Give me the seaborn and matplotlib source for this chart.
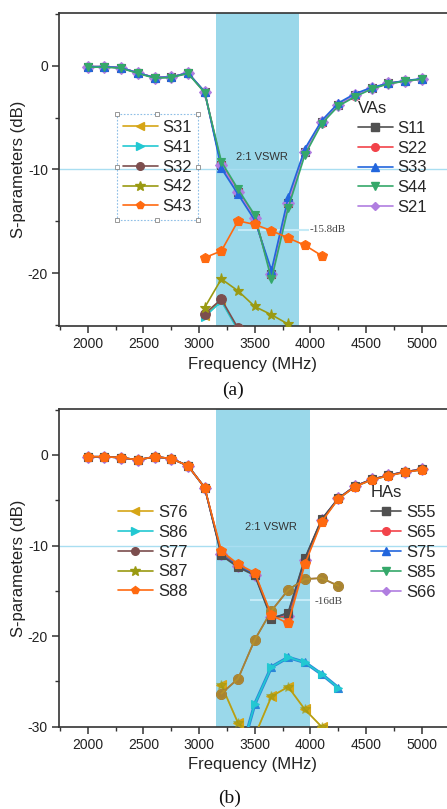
import matplotlib
matplotlib.use("Agg")
import matplotlib.pyplot as plt
import seaborn as sns
from matplotlib.lines import Line2D
from matplotlib.ticker import MultipleLocator

# ---------------- data ----------------
freq = [2000, 2150, 2300, 2450, 2600, 2750, 2900, 3050, 3200, 3350, 3500,
        3650, 3800, 3950, 4100, 4250, 4400, 4550, 4700, 4850, 5000]

# (a) VAs reflection
s11 = [-0.1, -0.1, -0.2, -0.7, -1.15, -1.1, -0.7, -2.55, -9.6, -12.2, -14.7, -20.1, -13.2, -8.3, -5.45, -3.75, -2.85, -2.2, -1.7, -1.5, -1.3]
s22 = [-0.1, -0.1, -0.2, -0.7, -1.15, -1.1, -0.7, -2.55, -9.5, -12.1, -14.6, -20.2, -13.3, -8.35, -5.5, -3.8, -2.9, -2.2, -1.7, -1.5, -1.3]
s33 = [-0.1, -0.1, -0.2, -0.7, -1.15, -1.1, -0.7, -2.5, -9.9, -12.4, -14.9, -19.7, -12.7, -8.0, -5.3, -3.6, -2.7, -2.1, -1.7, -1.45, -1.25]
s44 = [-0.15, -0.15, -0.25, -0.75, -1.2, -1.15, -0.75, -2.6, -9.25, -11.9, -14.4, -20.6, -13.7, -8.6, -5.6, -3.9, -3.0, -2.25, -1.75, -1.5, -1.3]
s21 = [-0.1, -0.1, -0.2, -0.7, -1.15, -1.1, -0.7, -2.55, -9.6, -12.2, -14.7, -20.1, -13.2, -8.3, -5.45, -3.75, -2.85, -2.2, -1.7, -1.5, -1.3]

# (a) VAs coupling
freq_s43 = [3050, 3200, 3350, 3500, 3650, 3800, 3950, 4100]
s43 = [-18.5, -17.85, -14.95, -15.3, -15.9, -16.6, -17.3, -18.3]
freq_s42 = [3050, 3200, 3350, 3500, 3650, 3800]
s42 = [-23.3, -20.55, -21.7, -23.2, -24.0, -24.9]
freq_s3x = [3050, 3200, 3350]
s31 = [-24.1, -22.65, -25.4]
s41 = [-24.2, -22.7, -25.5]
s32 = [-23.9, -22.5, -25.3]

# (b) HAs reflection
s55 = [-0.2, -0.2, -0.3, -0.55, -0.2, -0.4, -1.2, -3.6, -11.1, -12.4, -13.3, -18.1, -17.4, -11.4, -7.1, -4.8, -3.45, -2.7, -2.25, -1.85, -1.6]
s65 = [-0.2, -0.2, -0.3, -0.55, -0.2, -0.4, -1.2, -3.6, -10.9, -12.3, -13.2, -17.9, -17.8, -11.6, -7.2, -4.8, -3.45, -2.7, -2.25, -1.85, -1.6]
s75 = [-0.2, -0.2, -0.3, -0.55, -0.2, -0.4, -1.2, -3.6, -11.0, -12.3, -13.2, -18.0, -17.5, -11.5, -7.15, -4.8, -3.45, -2.7, -2.25, -1.85, -1.6]
s85 = [-0.2, -0.2, -0.3, -0.55, -0.2, -0.4, -1.2, -3.6, -10.8, -12.2, -13.1, -17.8, -18.0, -11.8, -7.3, -4.85, -3.5, -2.75, -2.3, -1.9, -1.65]
s66 = [-0.2, -0.2, -0.3, -0.55, -0.2, -0.4, -1.2, -3.6, -10.9, -12.3, -13.2, -17.9, -17.8, -11.6, -7.2, -4.8, -3.45, -2.7, -2.25, -1.85, -1.6]
s88 = [-0.2, -0.2, -0.3, -0.55, -0.2, -0.4, -1.2, -3.6, -10.6, -12.05, -13.0, -17.7, -18.6, -12.05, -7.4, -4.85, -3.5, -2.75, -2.3, -1.9, -1.65]

# (b) HAs coupling
freq_s77 = [3200, 3350, 3500, 3650, 3800, 3950, 4100, 4250]
s77 = [-26.35, -24.7, -20.4, -17.2, -14.9, -13.7, -13.6, -14.45]
s87 = [-26.35, -24.7, -20.4, -17.2, -14.9, -13.7, -13.6, -14.45]
freq_s86 = [3350, 3500, 3650, 3800, 3950, 4100, 4250]
s86 = [-34.0, -27.5, -23.4, -22.35, -22.9, -24.2, -25.7]
freq_s76 = [3200, 3350, 3500, 3650, 3800, 3950, 4100]
s76 = [-25.4, -29.6, -31.0, -26.65, -25.6, -28.1, -30.0]

xticks = [2000, 2500, 3000, 3500, 4000, 4500, 5000]

# ---------------- style ----------------
sns.set_theme(style="ticks")
plt.rcParams['font.family'] = ['Liberation Sans', 'DejaVu Sans']
plt.rcParams['axes.unicode_minus'] = False

C = {
    'S11': '#505050', 'S22': '#f2434a', 'S33': '#2266dd', 'S44': '#35a86a', 'S21': '#b07ee0',
    'S31': '#d6a516', 'S41': '#22c8d2', 'S32': '#7c4e4e', 'S42': '#9a9a12', 'S43': '#ff6a10',
}
M = {'S11': 's', 'S22': 'o', 'S33': '^', 'S44': 'v', 'S21': 'D',
     'S31': '<', 'S41': '>', 'S32': 'o', 'S42': '*', 'S43': 'p'}

fig = plt.figure(figsize=(4.47, 8.09), dpi=100)
W, H = 447.0, 809.0
ax1 = fig.add_axes([59 / W, 1 - 326 / H, 388 / W, 313 / H])
ax2 = fig.add_axes([59 / W, 1 - 726.7 / H, 388 / W, 317.7 / H])


def draw(ax, x, y, color, marker, ms=6, z=3, alpha=1.0, lw=1.2, mec=None):
    sns.lineplot(x=x, y=y, ax=ax, color=color, marker=marker, markersize=ms,
                 linewidth=lw, markeredgecolor=mec or color, markeredgewidth=0.8,
                 zorder=z, alpha=alpha, legend=False, errorbar=None, sort=False)
    return ax.lines[-1]


def handle(color, marker, ms=5.5):
    return Line2D([], [], color=color, marker=marker, markersize=ms, linewidth=1.2,
                  markeredgecolor=color)


for ax, band_hi, ylo in [(ax1, 3900, -25.08), (ax2, 4000, -30)]:
    ax.axvspan(3150, band_hi, color='#9ad8ea', zorder=0, lw=0)
    ax.axhline(-10, color='#a9def1', lw=1.0, zorder=1)
    ax.set_xlim(1742, 5226)
    ax.set_ylim(ylo, 5.07)
    ax.set_xticks(xticks)
    ax.xaxis.set_minor_locator(MultipleLocator(250))
    ax.yaxis.set_major_locator(MultipleLocator(10))
    ax.yaxis.set_minor_locator(MultipleLocator(5))
    ax.tick_params(which='major', direction='out', length=5, width=1.1, color='#333333',
                   labelsize=10, labelcolor='#222222', pad=3)
    ax.tick_params(which='minor', direction='out', length=3, width=1.0, color='#333333')
    for s in ['left', 'bottom', 'top']:
        ax.spines[s].set_color('#333333')
        ax.spines[s].set_linewidth(1.2)
    ax.spines['right'].set_visible(False)
    ax.set_xlabel('Frequency (MHz)', fontsize=12, color='#222222', labelpad=4)
    ax.set_ylabel('S-parameters (dB)', fontsize=12, color='#222222', labelpad=1.0)
    ax.grid(False)

# ---- panel (a) ----
for name, vals in [('S11', s11), ('S22', s22), ('S21', s21), ('S33', s33), ('S44', s44)]:
    draw(ax1, freq, vals, C[name], M[name])
draw(ax1, freq_s3x, s31, C['S31'], M['S31'])
draw(ax1, freq_s3x, s41, C['S41'], M['S41'])
draw(ax1, freq_s3x, s32, C['S32'], M['S32'], ms=7)
draw(ax1, freq_s42, s42, C['S42'], M['S42'], ms=8)
draw(ax1, freq_s43, s43, C['S43'], M['S43'], ms=7.5)

ax1.text(3564, -8.8, '2:1 VSWR', fontsize=8, ha='center', va='center', color='#333333')
ax1.hlines(-15.8, 3350, 3990, color='#c5ebf7', lw=1.5, zorder=1)
ax1.text(3995, -15.8, '-15.8dB', fontsize=8, ha='left', va='center', color='#444444',
         family=['Liberation Serif', 'DejaVu Serif'])

legA1 = ax1.legend(handles=[handle(C[n], M[n], 7 if n == 'S42' else 5.5) for n in ['S31', 'S41', 'S32', 'S42', 'S43']],
                   labels=['S31', 'S41', 'S32', 'S42', 'S43'],
                   loc='upper left', bbox_to_anchor=(0.149, 0.677), fontsize=12,
                   frameon=True, fancybox=False, handlelength=2.1, handletextpad=0.3,
                   labelspacing=0.29, borderpad=0.35, borderaxespad=0)
fr = legA1.get_frame()
fr.set_linestyle((0, (1.5, 1.5)))
fr.set_edgecolor('#72aee0')
fr.set_linewidth(0.8)
fr.set_facecolor('none')
ax1.add_artist(legA1)

legA2 = ax1.legend(handles=[handle(C[n], M[n], 4.5 if n == 'S21' else 5.5) for n in ['S11', 'S22', 'S33', 'S44', 'S21']],
                   labels=['S11', 'S22', 'S33', 'S44', 'S21'], title='VAs', title_fontsize=12,
                   loc='upper left', bbox_to_anchor=(0.757, 0.735), fontsize=12,
                   frameon=False, handlelength=2.1, handletextpad=0.3,
                   labelspacing=0.29, borderpad=0.3, borderaxespad=0, alignment='left')

# ---- panel (b) ----
CB = {'S55': '#505050', 'S65': '#f2434a', 'S75': '#2266dd', 'S85': '#35a86a', 'S66': '#b07ee0',
      'S76': '#d6a516', 'S86': '#22c8d2', 'S77': '#7c4e4e', 'S87': '#9a9a12', 'S88': '#ff6a10'}
MB = {'S55': 's', 'S65': 'o', 'S75': '^', 'S85': 'v', 'S66': 'D',
      'S76': '<', 'S86': '>', 'S77': 'o', 'S87': '*', 'S88': 'p'}

for name, vals in [('S66', s66), ('S85', s85), ('S65', s65), ('S75', s75), ('S55', s55)]:
    draw(ax2, freq, vals, CB[name], MB[name])
draw(ax2, freq_s76, s76, CB['S76'], MB['S76'], ms=7)
draw(ax2, freq_s76, s76, CB['S87'], '*', ms=7.5, alpha=0.5)
draw(ax2, freq_s86, s86, '#2a86d8', '^', ms=6, lw=2.4)
draw(ax2, freq_s86, s86, CB['S86'], MB['S86'], ms=6)
draw(ax2, freq_s77, s77, CB['S77'], MB['S77'], ms=7)
draw(ax2, freq_s77, s87, '#b8962a', 'o', ms=7, alpha=0.75)
draw(ax2, freq, s88, CB['S88'], MB['S88'], ms=7.5, z=4)

ax2.text(3645, -8.0, '2:1 VSWR', fontsize=8, ha='center', va='center', color='#333333')
ax2.hlines(-16, 3460, 3995, color='#c5ebf7', lw=1.5, zorder=1)
ax2.text(4040, -16.2, '-16dB', fontsize=8, ha='left', va='center', color='#444444',
         family=['Liberation Serif', 'DejaVu Serif'])

legB1 = ax2.legend(handles=[handle(CB[n], MB[n], 7 if n == 'S87' else 5.5) for n in ['S76', 'S86', 'S77', 'S87', 'S88']],
                   labels=['S76', 'S86', 'S77', 'S87', 'S88'],
                   loc='upper left', bbox_to_anchor=(0.139, 0.714), fontsize=12,
                   frameon=False, handlelength=2.1, handletextpad=0.3,
                   labelspacing=0.29, borderpad=0.3, borderaxespad=0)
ax2.add_artist(legB1)
legB2 = ax2.legend(handles=[handle(CB[n], MB[n], 4.5 if n == 'S66' else 5.5) for n in ['S55', 'S65', 'S75', 'S85', 'S66']],
                   labels=['S55', 'S65', 'S75', 'S85', 'S66'], title='HAs', title_fontsize=12,
                   loc='upper left', bbox_to_anchor=(0.79, 0.775), fontsize=12,
                   frameon=False, handlelength=1.85, handletextpad=0.3,
                   labelspacing=0.29, borderpad=0.3, borderaxespad=0, alignment='left')

fig.text(233 / W, 1 - 390 / H, '(a)', fontsize=14, ha='center', va='center',
         family=['Liberation Serif', 'DejaVu Serif'], color='#111111')
fig.text(230 / W, 1 - 798 / H, '(b)', fontsize=14, ha='center', va='center',
         family=['Liberation Serif', 'DejaVu Serif'], color='#111111')

# selection handles on the dotted legend frame (Origin style)
fig.canvas.draw()
bb = legA1.get_frame().get_window_extent().transformed(fig.transFigure.inverted())
xs = [bb.x0, (bb.x0 + bb.x1) / 2, bb.x1]
ys = [bb.y0, (bb.y0 + bb.y1) / 2, bb.y1]
for xx in xs:
    for yy in ys:
        if xx == xs[1] and yy == ys[1]:
            continue
        fig.add_artist(Line2D([xx], [yy], marker='s', markersize=2.2, markerfacecolor='white',
                              markeredgecolor='#888888', markeredgewidth=0.6,
                              transform=fig.transFigure))

fig.savefig('out.png', dpi=100)
